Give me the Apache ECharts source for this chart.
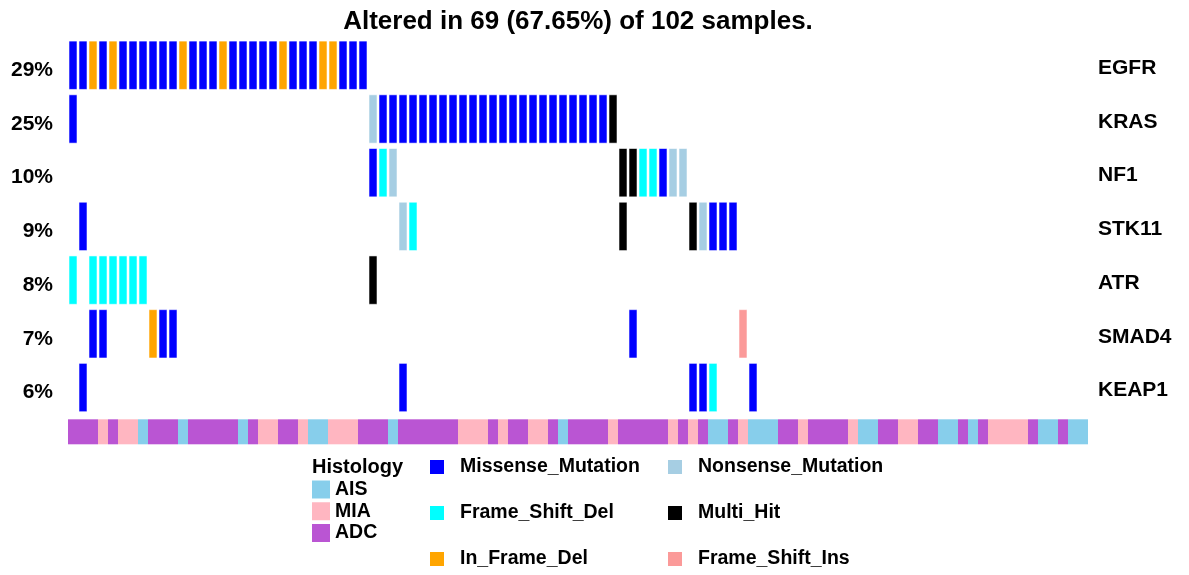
<!DOCTYPE html>
<html>
<head>
<meta charset="utf-8">
<script src="https://cdn.jsdelivr.net/npm/echarts@6/dist/echarts.min.js"></script>
<style>
  html, body { margin: 0; padding: 0; background: #fff; }
  #chart { width: 1189px; height: 575px; }
</style>
</head>
<body>
<div id="chart"></div>
<script>
// ---- data -------------------------------------------------------------
const sampleCount = 102;
const genes = ['EGFR', 'KRAS', 'NF1', 'STK11', 'ATR', 'SMAD4', 'KEAP1'];

// variant classes, keyed by short code
const mutationCodes = ['MS', 'NS', 'FD', 'MH', 'ID', 'FI'];
const mutationNames = ['Missense_Mutation', 'Nonsense_Mutation', 'Frame_Shift_Del',
                       'Multi_Hit', 'In_Frame_Del', 'Frame_Shift_Ins'];

// per gene: [sample index, variant code]
const egfr = [[0,'MS'],[1,'MS'],[2,'ID'],[3,'MS'],[4,'ID'],[5,'MS'],[6,'MS'],[7,'MS'],
  [8,'MS'],[9,'MS'],[10,'MS'],[11,'ID'],[12,'MS'],[13,'MS'],[14,'MS'],[15,'ID'],
  [16,'MS'],[17,'MS'],[18,'MS'],[19,'MS'],[20,'MS'],[21,'ID'],[22,'MS'],[23,'MS'],
  [24,'MS'],[25,'ID'],[26,'ID'],[27,'MS'],[28,'MS'],[29,'MS']];
const kras = [[0,'MS'],[30,'NS'],[31,'MS'],[32,'MS'],[33,'MS'],[34,'MS'],[35,'MS'],
  [36,'MS'],[37,'MS'],[38,'MS'],[39,'MS'],[40,'MS'],[41,'MS'],[42,'MS'],[43,'MS'],
  [44,'MS'],[45,'MS'],[46,'MS'],[47,'MS'],[48,'MS'],[49,'MS'],[50,'MS'],[51,'MS'],
  [52,'MS'],[53,'MS'],[54,'MH']];
const nf1 = [[30,'MS'],[31,'FD'],[32,'NS'],[55,'MH'],[56,'MH'],[57,'FD'],[58,'FD'],
  [59,'MS'],[60,'NS'],[61,'NS']];
const stk11 = [[1,'MS'],[33,'NS'],[34,'FD'],[55,'MH'],[62,'MH'],[63,'NS'],[64,'MS'],
  [65,'MS'],[66,'MS']];
const atr = [[0,'FD'],[2,'FD'],[3,'FD'],[4,'FD'],[5,'FD'],[6,'FD'],[7,'FD'],[30,'MH']];
const smad4 = [[2,'MS'],[3,'MS'],[8,'ID'],[9,'MS'],[10,'MS'],[56,'MS'],[67,'FI']];
const keap1 = [[1,'MS'],[33,'MS'],[62,'MS'],[63,'MS'],[64,'FD'],[68,'MS']];
const geneMutations = [egfr, kras, nf1, stk11, atr, smad4, keap1];

// clinical annotation, one code per sample: A = AIS, M = MIA, D = ADC
const histologyNames = ['AIS', 'MIA', 'ADC'];
const histologyCodes = ['A', 'M', 'D'];
const histology = [
  'D','D','D','M','D','M','M','A','D','D',
  'D','A','D','D','D','D','D','A','D','M',
  'M','D','D','M','A','A','M','M','M','D',
  'D','D','A','D','D','D','D','D','D','M',
  'M','M','D','M','D','D','M','M','D','A',
  'D','D','D','D','M','D','D','D','D','D',
  'M','D','M','D','A','A','D','M','A','A',
  'A','D','D','M','D','D','D','D','M','A',
  'A','D','D','M','M','D','D','A','A','D',
  'A','D','M','M','M','M','D','A','A','D',
  'A','A'
];

// ---- styling ------------------------------------------------------------
const mutationColors = ['#0000FF', '#A6CEE3', '#00FFFF', '#000000', '#FFA500', '#FB9A99'];
const histologyColors = ['#87CEEB', '#FFB6C1', '#BA55D3'];
const FONT = '"Liberation Sans", Arial, sans-serif';

// ---- derived ------------------------------------------------------------
const sampleIds = Array.from({ length: sampleCount }, (_, i) => 'S' + (i + 1));
const altered = new Set();
geneMutations.forEach(list => list.forEach(m => altered.add(m[0])));
const alteredPct = (altered.size / sampleCount * 100).toFixed(2);
const genePct = geneMutations.map(list => Math.round(list.length / sampleCount * 100) + '%');

function renderMutation(params, api) {
  const c = api.coord([api.value(0), api.value(1)]);
  const s = api.size([1, 1]);
  const w = s[0] * 0.8, h = s[1] * 0.9;
  return {
    type: 'rect',
    shape: { x: c[0] - w / 2, y: c[1] - h / 2, width: w, height: h },
    style: { fill: api.visual('color'), stroke: 'rgba(255,255,255,0.55)', lineWidth: 1 }
  };
}
function renderHistology(params, api) {
  const c = api.coord([api.value(0), api.value(1)]);
  const s = api.size([1, 1]);
  return {
    type: 'rect',
    shape: { x: c[0] - s[0] / 2, y: c[1] - s[1] / 2, width: s[0], height: s[1] },
    style: { fill: api.visual('color') }
  };
}

const series = [];
mutationCodes.forEach((code, t) => {
  const data = [];
  geneMutations.forEach((list, g) => list.forEach(m => { if (m[1] === code) data.push([m[0], g]); }));
  series.push({
    name: mutationNames[t], type: 'custom', xAxisIndex: 0, yAxisIndex: 0,
    itemStyle: { color: mutationColors[t] },
    encode: { x: 0, y: 1 }, renderItem: renderMutation, data: data
  });
});
histologyCodes.forEach((code, t) => {
  const data = [];
  histology.forEach((h, i) => { if (h === code) data.push([i, 0]); });
  series.push({
    name: histologyNames[t], type: 'custom', xAxisIndex: 1, yAxisIndex: 2,
    itemStyle: { color: histologyColors[t] },
    encode: { x: 0, y: 1 }, renderItem: renderHistology, data: data
  });
});

const legendText = { fontFamily: FONT, fontWeight: 'bold', fontSize: 19.5, color: '#000', lineHeight: 20 };

const option = {
  animation: false,
  backgroundColor: '#fff',
  grid: [
    { left: 68, width: 1020, top: 38.4, height: 376 },
    { left: 68, width: 1020, top: 419.3, height: 25 }
  ],
  xAxis: [
    { type: 'category', gridIndex: 0, data: sampleIds, show: false },
    { type: 'category', gridIndex: 1, data: sampleIds, show: false }
  ],
  yAxis: [
    {
      type: 'category', gridIndex: 0, data: genes, inverse: true,
      axisLine: { show: false }, axisTick: { show: false }, splitLine: { show: false },
      axisLabel: {
        margin: 15, fontFamily: FONT, fontWeight: 'bold', fontSize: 21, color: '#000',
        verticalAlign: 'top', lineHeight: 10,
        formatter: (v, i) => genePct[i]
      }
    },
    {
      type: 'category', gridIndex: 0, data: genes, inverse: true, position: 'right',
      axisLine: { show: false }, axisTick: { show: false }, splitLine: { show: false },
      axisLabel: {
        margin: 10, fontFamily: FONT, fontWeight: 'bold', fontSize: 21, color: '#000',
        verticalAlign: 'top', lineHeight: 6
      }
    },
    { type: 'category', gridIndex: 1, data: ['Histology'], show: false }
  ],
  legend: [
    {
      data: ['Missense_Mutation', 'Frame_Shift_Del', 'In_Frame_Del'],
      orient: 'vertical', left: 430, top: 457, padding: 0, itemGap: 26,
      itemWidth: 14, itemHeight: 14, icon: 'rect', selectedMode: false,
      textStyle: Object.assign({ padding: [0, 0, 0, 11] }, legendText)
    },
    {
      data: ['Nonsense_Mutation', 'Multi_Hit', 'Frame_Shift_Ins'],
      orient: 'vertical', left: 668, top: 457, padding: 0, itemGap: 26,
      itemWidth: 14, itemHeight: 14, icon: 'rect', selectedMode: false,
      textStyle: Object.assign({ padding: [0, 0, 0, 11] }, legendText)
    },
    {
      data: histologyNames,
      orient: 'vertical', left: 312, top: 479.5, padding: 0, itemGap: 1.75,
      itemWidth: 18, itemHeight: 18, icon: 'rect', selectedMode: false,
      textStyle: Object.assign({}, legendText, { lineHeight: 18 })
    }
  ],
  graphic: [
    {
      type: 'text', x: 578, y: 22,
      style: {
        text: 'Altered in ' + altered.size + ' (' + alteredPct + '%) of ' + sampleCount + ' samples.',
        font: 'bold 26px ' + FONT, fill: '#000', textAlign: 'center', textVerticalAlign: 'middle'
      }
    },
    {
      type: 'text', x: 312, y: 467,
      style: { text: 'Histology', font: 'bold 20px ' + FONT, fill: '#000', textVerticalAlign: 'middle' }
    }
  ],
  series: series
};

const chart = echarts.init(document.getElementById('chart'), null, { renderer: 'canvas' });
chart.setOption(option);
</script>
</body>
</html>
